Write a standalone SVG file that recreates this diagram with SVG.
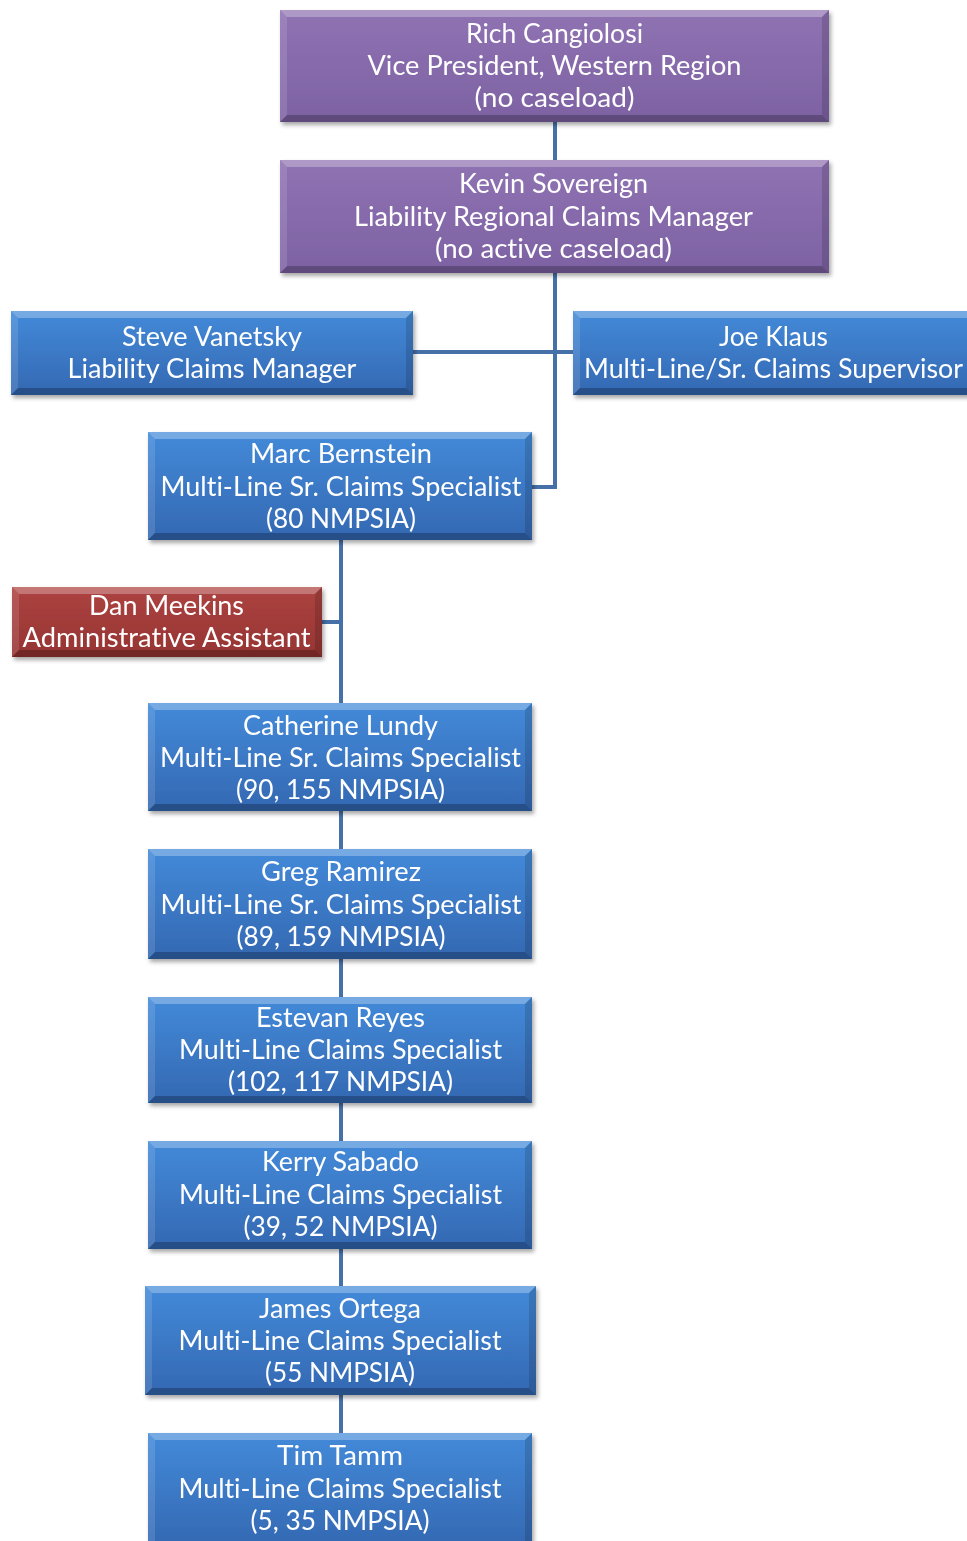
<svg xmlns="http://www.w3.org/2000/svg" width="967" height="1541" viewBox="0 0 967 1541">
<defs>
<linearGradient id="gBlue" x1="0" y1="0" x2="0" y2="1"><stop offset="0" stop-color="#438AD9"/><stop offset="1" stop-color="#3468B2"/></linearGradient>
<linearGradient id="gPurple" x1="0" y1="0" x2="0" y2="1"><stop offset="0" stop-color="#8F72B2"/><stop offset="1" stop-color="#7D62A3"/></linearGradient>
<linearGradient id="gRed" x1="0" y1="0" x2="0" y2="1"><stop offset="0" stop-color="#AD4341"/><stop offset="1" stop-color="#953432"/></linearGradient>
<filter id="sh" x="-5%" y="-10%" width="115%" height="130%"><feDropShadow dx="2" dy="3" stdDeviation="2.2" flood-color="#000" flood-opacity="0.35"/></filter>
</defs>
<style>
.blue{fill:url(#gBlue)}
.purple{fill:url(#gPurple)}
.red{fill:url(#gRed)}
.bt{fill:#fff;opacity:.28}
.bl{fill:#fff;opacity:.12}
.br{fill:#000;opacity:.14}
.bb{fill:#000;opacity:.24}
text{font-family:Lato,"Open Sans","Liberation Sans",sans-serif;font-size:26px;fill:#fff;text-anchor:middle;font-variant-ligatures:none}
.conn{stroke:#4570A8;stroke-width:4;fill:none}
</style>
<rect width="967" height="1541" fill="#fff"/>
<g id="connectors">
<path class="conn" d="M555 122V160M555 273V487H532M413 352H573M341 540V1433M322 622H341"/>
</g>
<g id="rich" filter="url(#sh)">
<rect class="purple" x="280" y="10" width="549" height="112"/>
<polygon class="bt" points="280,10 829,10 822,17 287,17"/><polygon class="bl" points="280,10 287,17 287,115 280,122"/><polygon class="br" points="829,10 829,122 822,115 822,17"/><polygon class="bb" points="280,122 829,122 822,115 287,115"/>
<text x="554.5" y="43" textLength="177" lengthAdjust="spacingAndGlyphs">Rich Cangiolosi</text>
<text x="554.5" y="75" textLength="374" lengthAdjust="spacingAndGlyphs">Vice President, Western Region</text>
<text x="554.5" y="107" textLength="160" lengthAdjust="spacingAndGlyphs">(no caseload)</text>
</g>
<g id="kevin" filter="url(#sh)">
<rect class="purple" x="280" y="160" width="549" height="113"/>
<polygon class="bt" points="280,160 829,160 822,167 287,167"/><polygon class="bl" points="280,160 287,167 287,266 280,273"/><polygon class="br" points="829,160 829,273 822,266 822,167"/><polygon class="bb" points="280,273 829,273 822,266 287,266"/>
<text x="553.5" y="193" textLength="189" lengthAdjust="spacingAndGlyphs">Kevin Sovereign</text>
<text x="553.5" y="226" textLength="399" lengthAdjust="spacingAndGlyphs">Liability Regional Claims Manager</text>
<text x="553.5" y="258" textLength="237" lengthAdjust="spacingAndGlyphs">(no active caseload)</text>
</g>
<g id="steve" filter="url(#sh)">
<rect class="blue" x="11" y="311" width="402" height="84"/>
<polygon class="bt" points="11,311 413,311 406,318 18,318"/><polygon class="bl" points="11,311 18,318 18,388 11,395"/><polygon class="br" points="413,311 413,395 406,388 406,318"/><polygon class="bb" points="11,395 413,395 406,388 18,388"/>
<text x="212" y="346" textLength="180" lengthAdjust="spacingAndGlyphs">Steve Vanetsky</text>
<text x="212" y="378" textLength="289" lengthAdjust="spacingAndGlyphs">Liability Claims Manager</text>
</g>
<g id="joe" filter="url(#sh)">
<rect class="blue" x="573" y="311" width="402" height="84"/>
<polygon class="bt" points="573,311 975,311 968,318 580,318"/><polygon class="bl" points="573,311 580,318 580,388 573,395"/><polygon class="br" points="975,311 975,395 968,388 968,318"/><polygon class="bb" points="573,395 975,395 968,388 580,388"/>
<text x="773.5" y="346" textLength="109" lengthAdjust="spacingAndGlyphs">Joe Klaus</text>
<text x="773.5" y="378" textLength="379" lengthAdjust="spacingAndGlyphs">Multi-Line/Sr. Claims Supervisor</text>
</g>
<g id="marc" filter="url(#sh)">
<rect class="blue" x="148" y="432" width="384" height="108"/>
<polygon class="bt" points="148,432 532,432 525,439 155,439"/><polygon class="bl" points="148,432 155,439 155,533 148,540"/><polygon class="br" points="532,432 532,540 525,533 525,439"/><polygon class="bb" points="148,540 532,540 525,533 155,533"/>
<text x="341" y="463" textLength="182" lengthAdjust="spacingAndGlyphs">Marc Bernstein</text>
<text x="341" y="496" textLength="361" lengthAdjust="spacingAndGlyphs">Multi-Line Sr. Claims Specialist</text>
<text x="341" y="528" textLength="150" lengthAdjust="spacingAndGlyphs">(80 NMPSIA)</text>
</g>
<g id="dan" filter="url(#sh)">
<rect class="red" x="12" y="587" width="310" height="70"/>
<polygon class="bt" points="12,587 322,587 315,594 19,594"/><polygon class="bl" points="12,587 19,594 19,650 12,657"/><polygon class="br" points="322,587 322,657 315,650 315,594"/><polygon class="bb" points="12,657 322,657 315,650 19,650"/>
<text x="166.5" y="615" textLength="155" lengthAdjust="spacingAndGlyphs">Dan Meekins</text>
<text x="166.5" y="647" textLength="288" lengthAdjust="spacingAndGlyphs">Administrative Assistant</text>
</g>
<g id="catherine" filter="url(#sh)">
<rect class="blue" x="148" y="703" width="384" height="108"/>
<polygon class="bt" points="148,703 532,703 525,710 155,710"/><polygon class="bl" points="148,703 155,710 155,804 148,811"/><polygon class="br" points="532,703 532,811 525,804 525,710"/><polygon class="bb" points="148,811 532,811 525,804 155,804"/>
<text x="340.5" y="735" textLength="195" lengthAdjust="spacingAndGlyphs">Catherine Lundy</text>
<text x="340.5" y="767" textLength="361" lengthAdjust="spacingAndGlyphs">Multi-Line Sr. Claims Specialist</text>
<text x="340.5" y="799" textLength="209" lengthAdjust="spacingAndGlyphs">(90, 155 NMPSIA)</text>
</g>
<g id="greg" filter="url(#sh)">
<rect class="blue" x="148" y="849" width="384" height="110"/>
<polygon class="bt" points="148,849 532,849 525,856 155,856"/><polygon class="bl" points="148,849 155,856 155,952 148,959"/><polygon class="br" points="532,849 532,959 525,952 525,856"/><polygon class="bb" points="148,959 532,959 525,952 155,952"/>
<text x="341" y="881" textLength="160" lengthAdjust="spacingAndGlyphs">Greg Ramirez</text>
<text x="341" y="914" textLength="361" lengthAdjust="spacingAndGlyphs">Multi-Line Sr. Claims Specialist</text>
<text x="341" y="946" textLength="209" lengthAdjust="spacingAndGlyphs">(89, 159 NMPSIA)</text>
</g>
<g id="estevan" filter="url(#sh)">
<rect class="blue" x="148" y="997" width="384" height="106"/>
<polygon class="bt" points="148,997 532,997 525,1004 155,1004"/><polygon class="bl" points="148,997 155,1004 155,1096 148,1103"/><polygon class="br" points="532,997 532,1103 525,1096 525,1004"/><polygon class="bb" points="148,1103 532,1103 525,1096 155,1096"/>
<text x="340.5" y="1027" textLength="169" lengthAdjust="spacingAndGlyphs">Estevan Reyes</text>
<text x="340.5" y="1059" textLength="323" lengthAdjust="spacingAndGlyphs">Multi-Line Claims Specialist</text>
<text x="340.5" y="1091" textLength="225" lengthAdjust="spacingAndGlyphs">(102, 117 NMPSIA)</text>
</g>
<g id="kerry" filter="url(#sh)">
<rect class="blue" x="148" y="1141" width="384" height="108"/>
<polygon class="bt" points="148,1141 532,1141 525,1148 155,1148"/><polygon class="bl" points="148,1141 155,1148 155,1242 148,1249"/><polygon class="br" points="532,1141 532,1249 525,1242 525,1148"/><polygon class="bb" points="148,1249 532,1249 525,1242 155,1242"/>
<text x="340.5" y="1171" textLength="157" lengthAdjust="spacingAndGlyphs">Kerry Sabado</text>
<text x="340.5" y="1204" textLength="323" lengthAdjust="spacingAndGlyphs">Multi-Line Claims Specialist</text>
<text x="340.5" y="1236" textLength="194" lengthAdjust="spacingAndGlyphs">(39, 52 NMPSIA)</text>
</g>
<g id="james" filter="url(#sh)">
<rect class="blue" x="145" y="1286" width="391" height="109"/>
<polygon class="bt" points="145,1286 536,1286 529,1293 152,1293"/><polygon class="bl" points="145,1286 152,1293 152,1388 145,1395"/><polygon class="br" points="536,1286 536,1395 529,1388 529,1293"/><polygon class="bb" points="145,1395 536,1395 529,1388 152,1388"/>
<text x="340" y="1318" textLength="162" lengthAdjust="spacingAndGlyphs">James Ortega</text>
<text x="340" y="1350" textLength="323" lengthAdjust="spacingAndGlyphs">Multi-Line Claims Specialist</text>
<text x="340" y="1382" textLength="150" lengthAdjust="spacingAndGlyphs">(55 NMPSIA)</text>
</g>
<g id="tim" filter="url(#sh)">
<rect class="blue" x="148" y="1433" width="384" height="115"/>
<polygon class="bt" points="148,1433 532,1433 525,1440 155,1440"/><polygon class="bl" points="148,1433 155,1440 155,1541 148,1548"/><polygon class="br" points="532,1433 532,1548 525,1541 525,1440"/><polygon class="bb" points="148,1548 532,1548 525,1541 155,1541"/>
<text x="340" y="1465" textLength="126" lengthAdjust="spacingAndGlyphs">Tim Tamm</text>
<text x="340" y="1498" textLength="323" lengthAdjust="spacingAndGlyphs">Multi-Line Claims Specialist</text>
<text x="340" y="1530" textLength="179" lengthAdjust="spacingAndGlyphs">(5, 35 NMPSIA)</text>
</g>
</svg>
